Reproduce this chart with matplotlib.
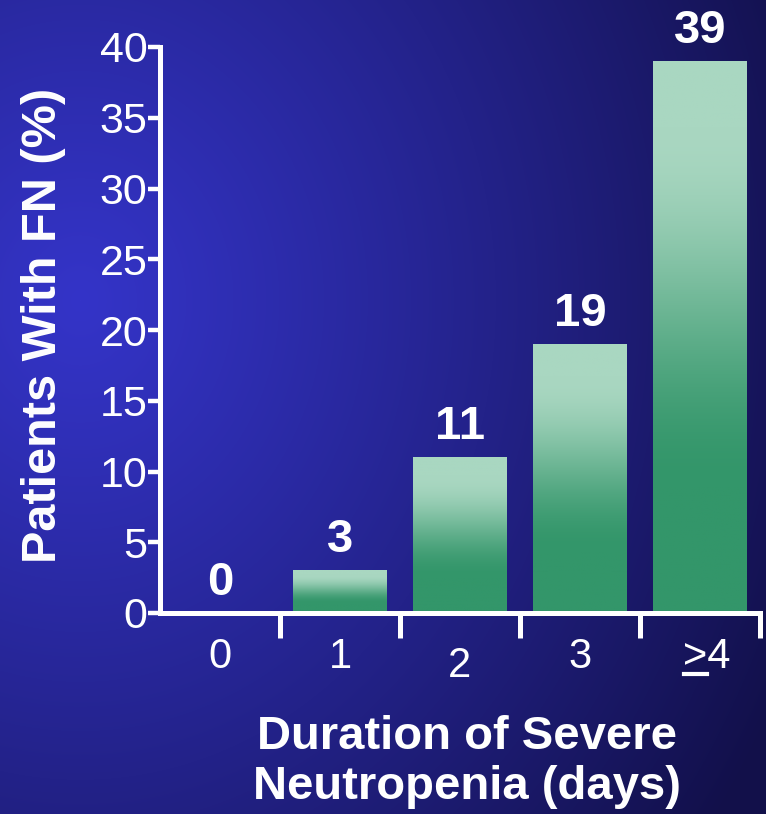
import numpy as np
import matplotlib
matplotlib.use("Agg")
import matplotlib.pyplot as plt
import matplotlib.transforms as mtransforms
from matplotlib.colors import to_rgb

plt.rcParams['font.family'] = ['Liberation Sans', 'DejaVu Sans']

# data
days = ['0', '1', '2', '3', '>4']
fn_pct = [0, 3, 11, 19, 39]
y_ticks = [0, 5, 10, 15, 20, 25, 30, 35, 40]

W, H = 766, 814
fig = plt.figure(figsize=(W / 100, H / 100), dpi=100)

# blue backdrop, bright at the left fading to navy at the right
bg = fig.add_axes([0, 0, 1, 1], zorder=-2)
yy, xx = np.mgrid[0:H, 0:W]
d = np.sqrt(((xx - 80) / 780.0) ** 2 + ((yy - 300) / 900.0) ** 2)
d = np.clip(d, 0, 1) ** 1.1
bright = np.array(to_rgb('#3434c8'))
dark = np.array(to_rgb('#12104a'))
bg_img = bright[None, None, :] * (1 - d[..., None]) + dark[None, None, :] * d[..., None]
bg.imshow(bg_img, aspect='auto', extent=(0, 1, 0, 1), origin='upper')
bg.axis('off')

ax = fig.add_axes([160 / W, 201 / H, 600 / W, 566 / H])
ax.patch.set_alpha(0)

x = np.arange(len(days))
bars = ax.bar(x, fn_pct, width=0.78, color='none', edgecolor='none')

# vertical green gradient inside each bar
light = np.array(to_rgb('#a9d7c1'))
deep = np.array(to_rgb('#33966a'))
t = np.linspace(0, 1, 256)
s = np.clip((t - 0.12) / 0.65, 0, 1)
s = s * s * (3 - 2 * s)
grad = light[None, :] * (1 - s[:, None]) + deep[None, :] * s[:, None]
grad = grad[:, None, :]
for b in bars:
    if b.get_height() <= 0:
        continue
    x0, w, h = b.get_x(), b.get_width(), b.get_height()
    ax.imshow(grad, aspect='auto', extent=(x0, x0 + w, 0, h), origin='upper', zorder=2)

# value labels above bars
for xi, v in zip(x, fn_pct):
    ax.annotate(str(v), (xi, v), xytext=(0, 13), textcoords='offset points',
                ha='center', va='baseline', color='white', fontsize=34, fontweight='bold')

ax.set_xlim(-0.5, 4.5)
ax.set_ylim(0, 40)

for side in ['top', 'right']:
    ax.spines[side].set_visible(False)
for side in ['left', 'bottom']:
    ax.spines[side].set_color('white')
    ax.spines[side].set_linewidth(3.6)
    ax.spines[side].set_capstyle('projecting')

ax.set_yticks(y_ticks)
ax.set_yticklabels([str(v) for v in y_ticks])
ax.tick_params(axis='y', colors='white', labelsize=31, length=9, width=3.2,
               direction='out', pad=0)

ax.set_xticks(x)
ax.set_xticklabels(days)
ax.set_xticks(list(x + 0.5), minor=True)
ax.tick_params(axis='x', which='major', length=0, colors='white', labelsize=30, pad=17)
ax.tick_params(axis='x', which='minor', length=18, width=3.6, colors='white', direction='out')

lbls = ax.get_xticklabels()
# the "2" sits a bit lower than the other labels
lbls[2].set_transform(lbls[2].get_transform() +
                      mtransforms.ScaledTranslation(0, -7 / 72, fig.dpi_scale_trans))
# last label sits a little right of its bar centre
lbls[4].set_transform(lbls[4].get_transform() +
                      mtransforms.ScaledTranslation(5 / 72, 0, fig.dpi_scale_trans))

fig.text(44 / W, 1 - 325 / H, 'Patients With FN (%)', rotation=90, ha='center', va='center',
         color='white', fontsize=35, fontweight='bold')
fig.text(467 / W, 1 - 762 / H, 'Duration of Severe\nNeutropenia (days)', ha='center',
         va='center', color='white', fontsize=34, fontweight='bold', linespacing=1.15)

# underline the ">" of the last category
fig.canvas.draw()
last = ax.get_xticklabels()[-1]
bb = last.get_window_extent()
ul_x0 = bb.x0 + 1
ul_x1 = bb.x0 + bb.width * 0.5
ul_y = bb.y0 + 3
fig.add_artist(plt.Line2D([ul_x0, ul_x1], [ul_y, ul_y], transform=mtransforms.IdentityTransform(),
                          color='white', lw=3))

fig.savefig('out.png', dpi=100)
